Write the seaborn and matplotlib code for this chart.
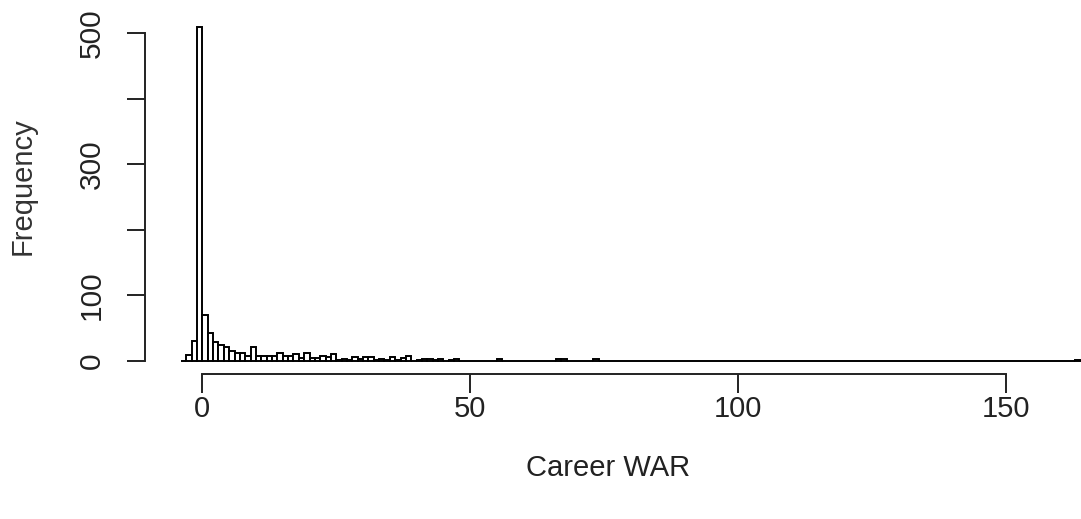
import numpy as np
import pandas as pd
import matplotlib
matplotlib.use("Agg")
import matplotlib.pyplot as plt
import seaborn as sns

# Histogram of career WAR, one-unit bins from -4 to 164
bin_start, bin_stop = -4, 164
bin_counts = (
    [0, 9, 30, 509, 70, 43, 29, 25, 22, 16,      # -4 .. 5
     13, 13, 7, 22, 8, 8, 8, 8, 13, 8,           # 6 .. 15
     7, 10, 5, 12, 4, 4, 7, 6, 10, 2,            # 16 .. 25
     3, 2, 6, 3, 6, 6, 2, 3, 1, 6,               # 26 .. 35
     2, 4, 7, 0, 1, 3, 3, 1, 3, 0,               # 36 .. 45
     1, 3, 0, 0, 0, 0, 0, 0, 0, 3,               # 46 .. 55
     0, 0, 0, 0, 0, 0, 0, 0, 0, 0,               # 56 .. 65
     3, 3, 0, 0, 0, 0, 0, 3]                     # 66 .. 73
    + [0] * 89                                   # 74 .. 162
    + [2]                                        # 163
)
x_ticks = [0, 50, 100, 150]
y_ticks = [0, 100, 200, 300, 400, 500]
y_tick_labels = ["0", "100", "", "300", "", "500"]

bin_mids = np.arange(bin_start, bin_stop) + 0.5
df = pd.DataFrame({"war": bin_mids, "n": bin_counts})

sns.set_style("white")
plt.rcParams["font.family"] = ["Liberation Sans", "DejaVu Sans"]

W, H = 1081, 519
fig = plt.figure(figsize=(W / 100, H / 100), dpi=100)
ax_left, ax_right, ax_top, ax_bottom = 145, 1116.6, 14.0, 374.4
ax_w, ax_h = ax_right - ax_left, ax_bottom - ax_top
ax = fig.add_axes([ax_left / W, (H - ax_bottom) / H, ax_w / W, ax_h / H])

sns.histplot(data=df, x="war", weights="n", binwidth=1, binrange=(bin_start, bin_stop),
             ax=ax, color="white", edgecolor="black", linewidth=1.4, alpha=1.0)

ax.set_xlim(-10.72, 170.72)
ax.set_ylim(-20.36, 529.36)

for side in ("top", "right"):
    ax.spines[side].set_visible(False)
ink = "#222222"
for side in ("left", "bottom"):
    ax.spines[side].set_color(ink)
    ax.spines[side].set_linewidth(1.4)
ax.spines["left"].set_bounds(0, 500)
ax.spines["bottom"].set_bounds(0, 150)

ax.set_xticks(x_ticks)
ax.set_xticklabels([str(t) for t in x_ticks], fontsize=21, color=ink)
ax.set_yticks(y_ticks)
ax.set_yticklabels(y_tick_labels, rotation=90, fontsize=21.5, color=ink, va="center", ha="right")

ax.tick_params(axis="x", direction="out", length=14, width=1.4, color=ink, pad=1, bottom=True)
ax.tick_params(axis="y", direction="out", length=13, width=1.4, color=ink, pad=15, left=True)

ax.set_xlabel("Career WAR", fontsize=21, color=ink)
ax.set_ylabel("Frequency", fontsize=21, color="#333333")
ax.xaxis.set_label_coords((608 - ax_left) / ax_w, -(468 - ax_bottom) / ax_h, transform=ax.transAxes)
ax.yaxis.set_label_coords(-(ax_left - 23) / ax_w, (ax_bottom - 186) / ax_h, transform=ax.transAxes)
ax.xaxis.label.set_va("center")
ax.yaxis.label.set_va("center")

fig.savefig("out.png", dpi=100, facecolor="white")
